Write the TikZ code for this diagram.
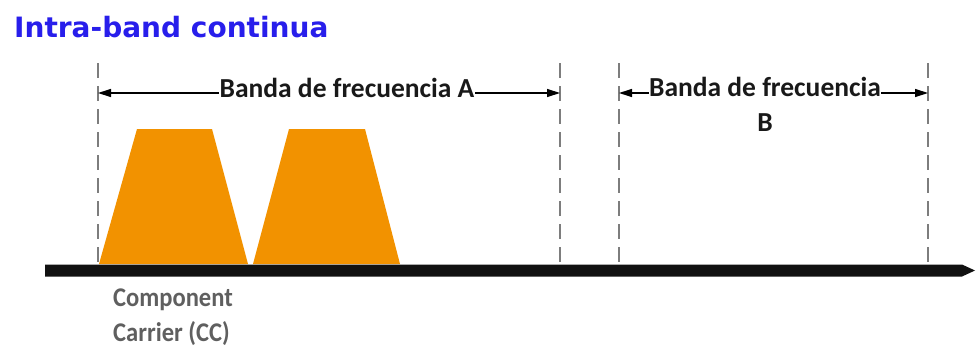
\documentclass[tikz,border=0pt]{standalone}
\usepackage{fontspec}
\setmainfont{Carlito}
\newfontfamily\titlefont{DejaVu Sans}
\usetikzlibrary{arrows.meta}
\definecolor{titleblue}{RGB}{40,30,235}
\definecolor{ccorange}{RGB}{242,146,0}
\definecolor{dashgray}{RGB}{125,125,125}
\definecolor{labelgray}{RGB}{95,95,95}
\definecolor{axisblack}{RGB}{17,17,17}
\begin{document}
\begin{tikzpicture}[x=1pt,y=-1pt,
  bandline/.style={dashgray,line width=2.6pt,dash pattern=on 15pt off 8pt},
  dimarrow/.style={black,line width=1.3pt,{Triangle[length=13pt,width=8pt]}-{Triangle[length=13pt,width=8pt]}},
  bandlabel/.style={fill=white,inner sep=0.5pt,text=black!90,font=\bfseries\fontsize{27.5}{35}\selectfont,align=center},
  cclabel/.style={inner sep=0pt,text=labelgray,font=\bfseries\fontsize{27}{35}\selectfont,align=left,xscale=0.91,transform shape}]
\useasboundingbox (0,0) rectangle (976,356);
% title
\node[inner sep=0pt,anchor=base west,text=titleblue,font=\titlefont\bfseries\fontsize{28}{32}\selectfont] (title) at (14,37) {Intra-band continua};
% carriers
\fill[ccorange] (99,264) -- (137,129) -- (212,129) -- (248,264) -- cycle;
\fill[ccorange] (253,264) -- (289,129) -- (365,129) -- (400,264) -- cycle;
% dashed band edges
\coordinate (a1t) at (98,63);  \coordinate (a1b) at (98,264);
\coordinate (a2t) at (560,63); \coordinate (a2b) at (560,264);
\coordinate (b1t) at (619,63); \coordinate (b1b) at (619,264);
\coordinate (b2t) at (928,63); \coordinate (b2b) at (928,264);
\draw[bandline] (a1t) -- (a1b);
\draw[bandline] (a2t) -- (a2b);
\draw[bandline] (b1t) -- (b1b);
\draw[bandline] (b2t) -- (b2b);
% dimension arrows
\coordinate (a1m) at (98,93); \coordinate (a2m) at (560,93);
\coordinate (b1m) at (619,93); \coordinate (b2m) at (928,93);
\draw[dimarrow] (a1m) -- (a2m);
\draw[dimarrow] (b1m) -- (b2m);
\node[bandlabel,anchor=base] (la) at (347,97) {Banda de frecuencia A};
\node[bandlabel,anchor=north] (lb) at (765,77) {Banda de frecuencia\\B};
% axis
\coordinate (ax1) at (975,270.5);
\fill[axisblack] (45,264.5) -- (962,264.5) -- (ax1) -- (962,276.5) -- (45,276.5) -- cycle;
% component carrier label
\node[cclabel,anchor=north west] (cc) at (113,289) {Component\\Carrier (CC)};
\end{tikzpicture}
\end{document}
